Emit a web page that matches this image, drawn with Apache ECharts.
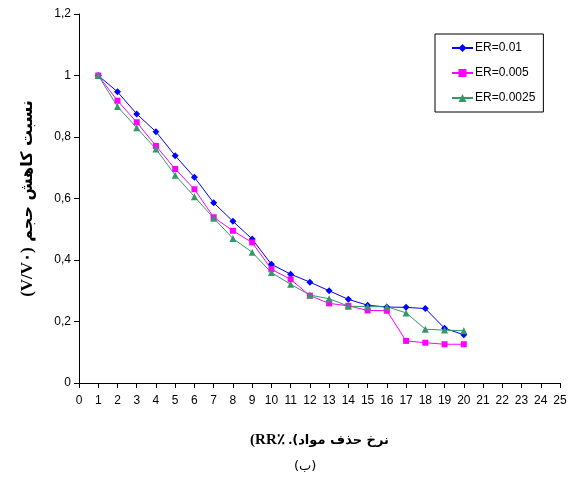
<!DOCTYPE html>
<html>
<head>
<meta charset="utf-8">
<script src="https://cdn.jsdelivr.net/npm/echarts@6/dist/echarts.min.js"></script>
<style>html,body{margin:0;padding:0;background:#fff}#c{width:572px;height:482px}</style>
</head>
<body>
<div id="c"></div>
<script>
const xValues = [1,2,3,4,5,6,7,8,9,10,11,12,13,14,15,16,17,18,19,20];
const er001 = [1.0,0.947,0.875,0.817,0.739,0.669,0.586,0.526,0.468,0.386,0.354,0.328,0.300,0.272,0.253,0.247,0.246,0.242,0.178,0.157];
const er0005 = [1.0,0.918,0.848,0.771,0.696,0.630,0.539,0.495,0.457,0.370,0.337,0.284,0.259,0.251,0.236,0.235,0.137,0.131,0.126,0.126];
const er00025 = [1.0,0.899,0.830,0.761,0.676,0.606,0.536,0.470,0.425,0.359,0.321,0.286,0.274,0.250,0.248,0.248,0.228,0.175,0.172,0.170];
const seriesNames = ['ER=0.01','ER=0.005','ER=0.0025'];
const xTicks = {min:0,max:25,interval:1};
const yTicks = {min:0,max:1.2,interval:0.2};

const chart = echarts.init(document.getElementById('c'));
function pairs(arr){ return xValues.map((x,i)=>[x,arr[i]]); }
const font = 'Liberation Sans, Arial, sans-serif';
chart.setOption({
  animation:false,
  backgroundColor:'#fff',
  grid:{left:79,right:12,top:14,bottom:99},
  title:{text:'(ب)',left:289,top:455,textStyle:{fontSize:13,fontWeight:'normal',color:'#000',fontFamily:'DejaVu Sans'}},
  legend:{
    orient:'vertical',left:435,top:34,width:118,height:77,
    padding:[8,8,8,16],itemGap:13,itemWidth:21,itemHeight:10,
    borderColor:'#000',borderWidth:1,
    textStyle:{fontSize:12,color:'#000',fontFamily:font,padding:[0,0,0,-3]},
    data:seriesNames
  },
  xAxis:{
    type:'value',min:xTicks.min,max:xTicks.max,interval:xTicks.interval,
    axisLine:{lineStyle:{color:'#000',width:1}},
    axisTick:{show:true,length:5,lineStyle:{color:'#000'}},
    axisLabel:{color:'#000',fontSize:12,fontFamily:font,margin:12},
    splitLine:{show:false},
    name:'{b|(RR٪ .}{a|(نرخ حذف مواد}',nameLocation:'middle',nameGap:50,
    nameTextStyle:{rich:{a:{fontSize:13,fontWeight:'bold',fontFamily:'DejaVu Sans',color:'#000'},b:{fontSize:15,fontWeight:'bold',fontFamily:'Liberation Serif',color:'#000'}}}
  },
  yAxis:{
    type:'value',min:yTicks.min,max:yTicks.max,interval:yTicks.interval,
    axisLine:{show:true,lineStyle:{color:'#000',width:1}},
    axisTick:{show:true,length:5,lineStyle:{color:'#000'}},
    axisLabel:{color:'#000',fontSize:12,fontFamily:font,margin:8,formatter:v=>String(Math.round(v*10)/10).replace('.',',')},
    splitLine:{show:false},
    name:'{b|(V/V٠)}{a| نسبت کاهش حجم}',nameLocation:'middle',nameGap:43,nameRotate:90,
    nameTextStyle:{rich:{a:{fontSize:16,fontWeight:'bold',fontFamily:'DejaVu Sans',color:'#000'},b:{fontSize:17,fontWeight:'bold',fontFamily:'Liberation Serif',color:'#000'}}}
  },
  series:[
    {name:seriesNames[0],type:'line',data:pairs(er001),symbol:'diamond',symbolSize:7,
     lineStyle:{color:'#0000ff',width:1},itemStyle:{color:'#0000ff'}},
    {name:seriesNames[1],type:'line',data:pairs(er0005),symbol:'rect',symbolSize:6,
     lineStyle:{color:'#ff00ff',width:1},itemStyle:{color:'#ff00ff'}},
    {name:seriesNames[2],type:'line',data:pairs(er00025),symbol:'triangle',symbolSize:7,
     lineStyle:{color:'#339966',width:1},itemStyle:{color:'#339966'}}
  ]
});
</script>
</body>
</html>
